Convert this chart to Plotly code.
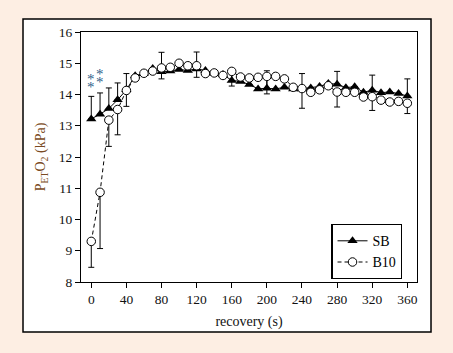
import plotly.graph_objects as go

time_s = list(range(0, 361, 10))

sb = [13.22, 13.37, 13.55, 13.83, 14.15, 14.6, 14.68, 14.83, 14.73, 14.75,
      14.8, 14.77, 14.82, 14.77, 14.68, 14.64, 14.45, 14.42, 14.32, 14.18,
      14.2, 14.18, 14.23, 14.18, 14.18, 14.21, 14.26, 14.35, 14.33, 14.22,
      14.25, 14.07, 14.14, 14.06, 14.08, 14.03, 13.95]

b10 = [9.3, 10.87, 13.18, 13.52, 14.13, 14.53, 14.68, 14.75, 14.85, 14.87,
       15.0, 14.92, 14.92, 14.67, 14.69, 14.61, 14.74, 14.56, 14.53, 14.55,
       14.58, 14.58, 14.5, 14.23, 14.19, 14.07, 14.15, 14.28, 14.08, 14.07,
       14.07, 13.92, 13.93, 13.82, 13.76, 13.78, 13.72]

# SEM bars: SB drawn upward, B10 downward (0 = no bar)
sb_err_up = [0.72, 0.68, 0.66, 0.54, 0.52, 0, 0, 0, 0.62, 0,
             0, 0, 0.54, 0, 0, 0, 0.38, 0, 0, 0,
             0.56, 0, 0, 0, 0.49, 0, 0, 0, 0.41, 0,
             0, 0, 0.48, 0, 0, 0, 0.55]
b10_err_down = [0.83, 1.8, 0.84, 0.81, 0.51, 0, 0, 0, 0.35, 0,
                0, 0, 0.37, 0, 0, 0, 0.47, 0, 0, 0,
                0.56, 0, 0, 0, 0.63, 0, 0, 0, 0.48, 0,
                0, 0, 0.44, 0, 0, 0, 0.33]
zeros = [0] * len(time_s)

# significance asterisks
star_x = [0, 0, 10, 10]
star_y = [14.51, 14.25, 14.66, 14.39]

x_ticks = list(range(0, 361, 40))
y_ticks = list(range(8, 17))

SERIF = "Liberation Serif, Times New Roman, serif"

fig = go.Figure()

fig.add_trace(go.Scatter(
    x=time_s, y=sb, name="SB", mode="lines+markers",
    line=dict(color="black", width=1),
    marker=dict(symbol="triangle-up", size=9, color="black"),
    error_y=dict(type="data", symmetric=False, array=sb_err_up, arrayminus=zeros,
                 color="black", thickness=1, width=3),
))
fig.add_trace(go.Scatter(
    x=time_s, y=b10, name="B10", mode="lines+markers",
    line=dict(color="black", width=1, dash="4px,3px"),
    marker=dict(symbol="circle", size=8.5, color="white",
                line=dict(color="black", width=1)),
    error_y=dict(type="data", symmetric=False, array=zeros, arrayminus=b10_err_down,
                 color="black", thickness=1, width=3),
))

for sx, sy in zip(star_x, star_y):
    fig.add_annotation(x=sx, y=sy, text="*", showarrow=False,
                       font=dict(family=SERIF, size=15, color="#2f5f8a"),
                       xanchor="center", yanchor="middle")

# white panel with black frame
fig.add_shape(type="rect", xref="paper", yref="paper",
              x0=-0.1726, x1=1.0417, y0=-0.2, y1=1.052,
              fillcolor="white", line=dict(color="black", width=1.5), layer="below")

fig.update_layout(
    width=453, height=353,
    margin=dict(l=81, r=36, t=32, b=71),
    paper_bgcolor="#fdeee3",
    plot_bgcolor="white",
    showlegend=True,
    legend=dict(x=0.745, y=0.232, xanchor="left", yanchor="top",
                bgcolor="white", bordercolor="black", borderwidth=1.2,
                font=dict(family=SERIF, size=14, color="black"),
                itemwidth=30, tracegroupgap=0),
    font=dict(family=SERIF, size=13, color="#111"),
)

fig.update_xaxes(
    range=[-11.7, 371], tickvals=x_ticks, ticktext=[str(v) for v in x_ticks],
    ticks="outside", ticklen=5, tickcolor="black", tickwidth=1,
    showline=True, linecolor="black", linewidth=1.2, mirror=True,
    showgrid=False, zeroline=False,
    tickfont=dict(family=SERIF, size=13.5, color="#111"),
    title=dict(text="recovery (s)", standoff=9,
               font=dict(family=SERIF, size=14, color="#111")),
)
fig.update_yaxes(
    range=[8, 16], tickvals=y_ticks, ticktext=[str(v) for v in y_ticks],
    ticks="outside", ticklen=5, tickcolor="black", tickwidth=1,
    showline=True, linecolor="black", linewidth=1.2, mirror=True,
    showgrid=False, zeroline=False,
    tickfont=dict(family=SERIF, size=13.5, color="#111"),
    title=dict(text="P<sub>ET</sub>O<sub>2</sub> (kPa)", standoff=9,
               font=dict(family=SERIF, size=14, color="#7a4a22")),
)

fig.write_html("out.html")
